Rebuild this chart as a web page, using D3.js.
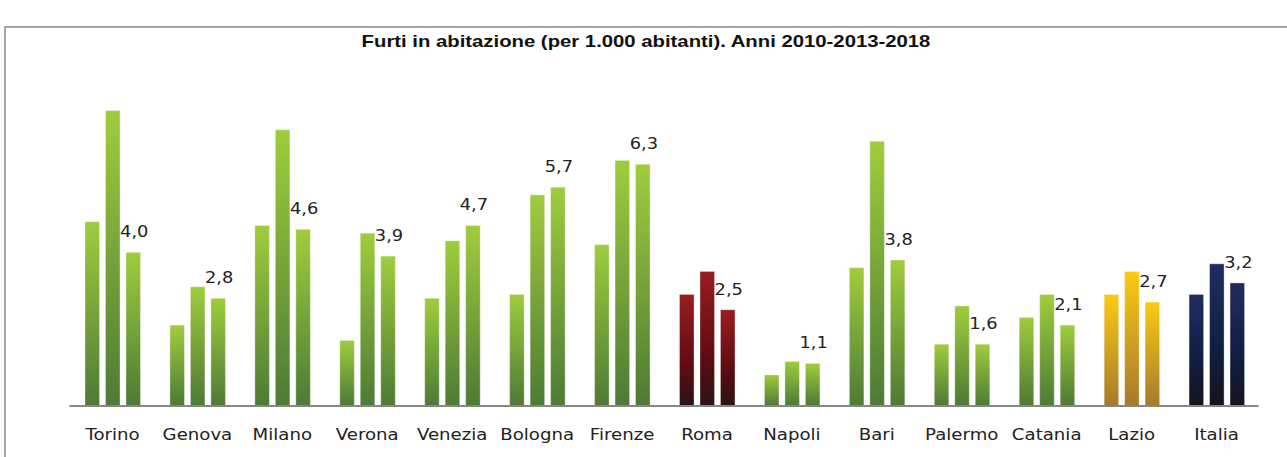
<!DOCTYPE html>
<html>
<head>
<meta charset="utf-8">
<script src="https://cdn.jsdelivr.net/npm/d3@7/dist/d3.min.js"></script>
<style>
  html, body { margin: 0; padding: 0; background: #fff; }
  svg { display: block; }
</style>
</head>
<body>
<svg id="chart" width="1287" height="457"></svg>
<script>
// Furti in abitazione per 1.000 abitanti — 2010, 2013, 2018
const cities = ["Torino", "Genova", "Milano", "Verona", "Venezia", "Bologna", "Firenze",
                "Roma", "Napoli", "Bari", "Palermo", "Catania", "Lazio", "Italia"];
const years = ["2010", "2013", "2018"];
const v2010 = [4.8, 2.1, 4.7, 1.7, 2.8, 2.9, 4.2, 2.9, 0.8, 3.6, 1.6, 2.3, 2.9, 2.9];
const v2013 = [7.7, 3.1, 7.2, 4.5, 4.3, 5.5, 6.4, 3.5, 1.15, 6.9, 2.6, 2.9, 3.5, 3.7];
const v2018 = [4.0, 2.8, 4.6, 3.9, 4.7, 5.7, 6.3, 2.5, 1.1, 3.8, 1.6, 2.1, 2.7, 3.2];
const titleText = "Furti in abitazione (per 1.000 abitanti). Anni 2010-2013-2018";

// colour family for each group: regular cities green, Roma red, Lazio gold, Italia navy
const palette = {
  green: [["0%", "#9fcd3d"], ["100%", "#4e7a35"]],
  red:   [["0%", "#9a1c20"], ["65%", "#5c0c12"], ["100%", "#2a1416"]],
  gold:  [["0%", "#fcca14"], ["100%", "#a57a2c"]],
  navy:  [["0%", "#1f2d5f"], ["60%", "#0f1e42"], ["100%", "#14141c"]]
};
const familyOf = c => c === "Roma" ? "red" : c === "Lazio" ? "gold" : c === "Italia" ? "navy" : "green";

const rows = cities.map((c, i) => ({ city: c, values: [v2010[i], v2013[i], v2018[i]] }));

const svg = d3.select("#chart");

// gradients
const defs = svg.append("defs");
Object.entries(palette).forEach(([name, stops]) => {
  const g = defs.append("linearGradient")
    .attr("id", "grad-" + name)
    .attr("x1", 0).attr("y1", 0).attr("x2", 0).attr("y2", 1);
  stops.forEach(([off, col]) => g.append("stop").attr("offset", off).attr("stop-color", col));
});

// outer frame (top and left edges)
svg.append("path")
  .attr("d", "M5,457 V27 H1287")
  .attr("fill", "none")
  .attr("stroke", "#a6a6a6")
  .attr("stroke-width", 2);

// title
svg.append("text")
  .attr("transform", "translate(646,47) scale(1.27,1)")
  .attr("text-anchor", "middle")
  .attr("font-family", "'Liberation Sans', Arial, sans-serif")
  .attr("font-weight", "bold")
  .attr("font-size", 16)
  .attr("fill", "#111")
  .text(titleText);

// scales
const x0 = d3.scaleBand().domain(cities).range([69, 1258]).paddingInner(0).paddingOuter(0);
const x1 = d3.scaleBand().domain(years).range([16, 71.5]).paddingInner(0.29).paddingOuter(0);
const y = d3.scaleLinear().domain([0, 8]).range([405.5, 405.5 - 8 * 38.3]);

// bars
const groups = svg.append("g").selectAll("g")
  .data(rows)
  .join("g")
  .attr("transform", d => `translate(${x0(d.city)},0)`);

groups.selectAll("rect")
  .data(d => d.values.map((v, k) => ({ city: d.city, year: years[k], value: v })))
  .join("rect")
  .attr("x", d => x1(d.year))
  .attr("y", d => y(d.value))
  .attr("width", x1.bandwidth())
  .attr("height", d => y(0) - y(d.value))
  .attr("fill", d => `url(#grad-${familyOf(d.city)})`)
  .attr("stroke", "rgba(255,255,255,0.35)")
  .attr("stroke-width", 1);

// value labels on the 2018 bars
groups.append("text")
  .attr("transform", d => `translate(${x1("2018") + x1.bandwidth() / 2 + 1},${y(d.values[2]) - 15}) scale(1.15,1)`)
  .attr("text-anchor", "middle")
  .attr("font-family", "'DejaVu Sans', Verdana, sans-serif")
  .attr("font-size", 15.5)
  .attr("fill", "#222")
  .text(d => d3.format(".1f")(d.values[2]).replace(".", ","));

// category axis
const axis = svg.append("g")
  .attr("transform", `translate(0,${y(0)})`)
  .call(d3.axisBottom(x0).tickSize(0).tickPadding(0));
axis.select(".domain").attr("stroke", "#868686").attr("stroke-width", 2);
axis.selectAll(".tick text")
  .attr("y", 0)
  .attr("dy", 0)
  .attr("transform", "translate(1,34) scale(1.1,1)")
  .attr("font-family", "'DejaVu Sans', Verdana, sans-serif")
  .attr("font-size", 16.5)
  .attr("fill", "#222");
</script>
</body>
</html>
